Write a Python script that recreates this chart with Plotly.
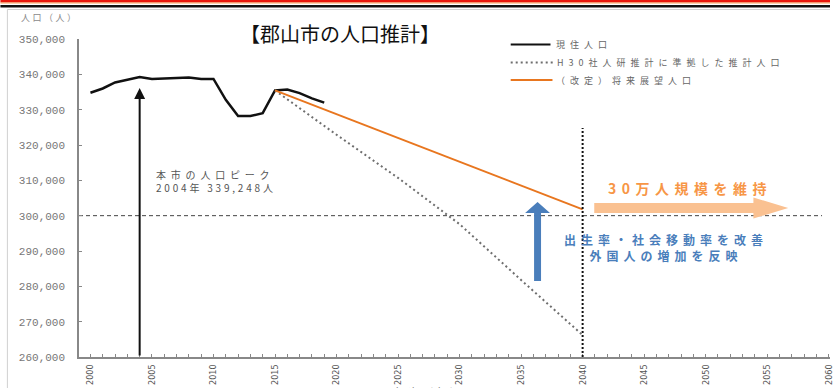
import plotly.graph_objects as go

# ---------------- data ----------------
years_actual = [2000, 2001, 2002, 2003, 2004, 2005, 2006, 2007, 2008, 2009,
                2010, 2011, 2012, 2013, 2014, 2015, 2016, 2017, 2018, 2019]
pop_actual = [334800, 336000, 337700, 338400, 339248, 338700, 338900, 339050, 339100, 338700,
              338700, 332800, 328200, 328200, 329000, 335444, 335700, 334700, 333200, 332000]

years_ipss = [2015, 2020, 2025, 2030, 2035, 2040]
pop_ipss = [335444, 322900, 310700, 297600, 281800, 266200]

years_vision = [2015, 2040]
pop_vision = [335444, 301800]

y_ticks = [260000, 270000, 280000, 290000, 300000, 310000, 320000, 330000, 340000, 350000]
x_ticks = list(range(2000, 2061, 5))

legend_labels = ["現住人口", "H30社人研推計に準拠した推計人口", "（改定）将来展望人口"]
title_text = "【郡山市の人口推計】"
peak_year = 2004
target_pop = 300000
target_year = 2040

# ---------------- layout helpers (pixel -> paper) ----------------
W, H = 834, 388
L, R, T, B = 79, 0, 39, 31
PW, PH = W - L - R, H - T - B


def px(x):
    return (x - L) / PW


def py(y):
    return (H - B - y) / PH


CJK = "Noto Sans CJK JP"


def sp(text, ls):
    return f'<span style="letter-spacing:{ls}px">{text}</span>'


fig = go.Figure()

fig.add_trace(go.Scatter(x=years_actual, y=pop_actual, mode="lines",
                         line=dict(color="#111111", width=2.5), showlegend=False))
fig.add_trace(go.Scatter(x=years_ipss, y=pop_ipss, mode="lines",
                         line=dict(color="#6E6E6E", width=2, dash="2px,3px"), showlegend=False))
fig.add_trace(go.Scatter(x=years_vision, y=pop_vision, mode="lines",
                         line=dict(color="#E8761F", width=2), showlegend=False))

shapes = []
# 300,000 reference line
shapes.append(dict(type="line", xref="paper", yref="y", x0=0, x1=px(826),
                   y0=target_pop, y1=target_pop,
                   line=dict(color="#444444", width=1, dash="4px,3px"), layer="below"))
# 2040 vertical dotted line
shapes.append(dict(type="line", xref="x", yref="y", x0=target_year, x1=target_year,
                   y0=260000, y1=324800,
                   line=dict(color="#111111", width=2, dash="2px,2px")))

# top decoration stripes
shapes.append(dict(type="rect", xref="paper", yref="paper", x0=px(0), x1=px(834),
                   y0=py(2.5), y1=py(0), fillcolor="#E8170C", line=dict(width=0)))
shapes.append(dict(type="rect", xref="paper", yref="paper", x0=px(0), x1=px(834),
                   y0=py(3.5), y1=py(2.5), fillcolor="#F5A25A", line=dict(width=0)))
shapes.append(dict(type="rect", xref="paper", yref="paper", x0=px(0), x1=px(834),
                   y0=py(7.5), y1=py(5), fillcolor="#111111", line=dict(width=0)))
# frame lines
shapes.append(dict(type="line", xref="paper", yref="paper", x0=px(7), x1=px(834),
                   y0=py(9.5), y1=py(9.5), line=dict(color="#D0D0D0", width=1)))
shapes.append(dict(type="line", xref="paper", yref="paper", x0=px(7), x1=px(7),
                   y0=py(388), y1=py(9.5), line=dict(color="#D0D0D0", width=1)))

# legend lines
shapes.append(dict(type="line", xref="paper", yref="paper", x0=px(513), x1=px(553),
                   y0=py(44.5), y1=py(44.5), line=dict(color="#111111", width=2)))
shapes.append(dict(type="line", xref="paper", yref="paper", x0=px(513), x1=px(556),
                   y0=py(62.5), y1=py(62.5), line=dict(color="#6E6E6E", width=2, dash="2px,3px")))
shapes.append(dict(type="line", xref="paper", yref="paper", x0=px(513), x1=px(555),
                   y0=py(80), y1=py(80), line=dict(color="#E8761F", width=2)))


def path(points):
    s = "M " + " L ".join(f"{px(a):.5f},{py(b):.5f}" for a, b in points) + " Z"
    return s


# blue arrow (upward)
bx = 540
shapes.append(dict(type="path", xref="paper", yref="paper",
                   path=path([(bx - 3.5, 281), (bx - 3.5, 213), (bx - 12.5, 213), (bx, 202),
                              (bx + 12.5, 213), (bx + 3.5, 213), (bx + 3.5, 281)]),
                   fillcolor="#4A7EBB", line=dict(width=0)))
# peach arrow (right)
shapes.append(dict(type="path", xref="paper", yref="paper",
                   path=path([(597, 203), (757, 203), (757, 197.5), (792, 208),
                              (757, 218.5), (757, 213), (597, 213)]),
                   fillcolor="#FAC191", line=dict(width=0)))

annotations = []
# peak arrow
annotations.append(dict(x=peak_year, y=336100, xref="x", yref="y",
                        ax=peak_year, ay=260000, axref="x", ayref="y",
                        text="", showarrow=True, arrowhead=2, arrowsize=1.1,
                        arrowwidth=2, arrowcolor="#111111"))

# title
annotations.append(dict(x=px(341), y=py(33), xref="paper", yref="paper",
                        text=title_text, showarrow=False,
                        font=dict(family=CJK, size=20, color="#111111"),
                        xanchor="center", yanchor="middle"))
# axis titles
annotations.append(dict(x=px(19), y=py(17), xref="paper", yref="paper",
                        text=sp("人口（人）", 2.5), showarrow=False,
                        font=dict(family=CJK, size=9, color="#8A8A8A"),
                        xanchor="left", yanchor="middle"))
annotations.append(dict(x=px(394), y=py(382), xref="paper", yref="paper",
                        text=sp("年次（年）", 3), showarrow=False,
                        font=dict(family=CJK, size=11, color="#777777"),
                        xanchor="left", yanchor="top"))
# legend texts
for lab, yy, xx in zip(legend_labels, [44.5, 62.5, 80], [557, 558, 557]):
    annotations.append(dict(x=px(xx), y=py(yy), xref="paper", yref="paper",
                            text=sp(lab, 5), showarrow=False,
                            font=dict(family=CJK, size=9, color="#666666"),
                            xanchor="left", yanchor="middle"))
# peak text (two lines in one annotation)
peak_pop = pop_actual[years_actual.index(peak_year)]
annotations.append(dict(x=px(154), y=py(180.5), xref="paper", yref="paper",
                        text=sp("本市の人口ピーク", 4.8) + "<br>" +
                        sp(f"{peak_year}年 {peak_pop:,}人", 2.8),
                        showarrow=False, align="left",
                        font=dict(family=CJK, size=10, color="#555555"),
                        xanchor="left", yanchor="middle"))
# orange message
annotations.append(dict(x=px(693), y=py(188), xref="paper", yref="paper",
                        text="<b>" + sp("30万人規模を維持", 5.5) + "</b>", showarrow=False,
                        font=dict(family=CJK, size=14, color="#F79646"),
                        xanchor="center", yanchor="middle"))
# blue message (two lines in one annotation)
annotations.append(dict(x=px(669), y=py(247.5), xref="paper", yref="paper",
                        text="<b>" + sp("出生率・社会移動率を改善", 5) + "<br>" +
                        sp("外国人の増加を反映", 5) + "</b>",
                        showarrow=False, align="center",
                        font=dict(family=CJK, size=12, color="#4A7EBB"),
                        xanchor="center", yanchor="middle"))

x_lo = 2000 - (90.5 - L) / 12.37
x_hi = x_lo + PW / 12.37

fig.update_layout(
    width=W, height=H,
    margin=dict(l=L, r=R, t=T, b=B, pad=0),
    paper_bgcolor="white", plot_bgcolor="white",
    showlegend=False,
    shapes=shapes, annotations=annotations,
    xaxis=dict(range=[x_lo, x_hi], tickmode="array", tickvals=x_ticks,
               ticktext=[str(v) for v in x_ticks], tickangle=-90,
               ticks="inside", ticklen=3, tickcolor="#888888",
               minor=dict(dtick=1, tick0=2000, ticks="inside", ticklen=3, tickcolor="#888888"),
               showline=True, linecolor="#888888", linewidth=1.5,
               showgrid=False, zeroline=False,
               ticklabeloverflow="allow",
               tickfont=dict(family="Liberation Sans Narrow, DejaVu Sans Condensed", size=9, color="#555555"),
               ticklabelstandoff=2),
    yaxis=dict(range=[260000, 350000], tickmode="array", tickvals=y_ticks,
               ticktext=[f"{v:,}" for v in y_ticks],
               ticks="inside", ticklen=3, tickcolor="#888888",
               showline=True, linecolor="#888888", linewidth=1.5,
               showgrid=False, zeroline=False,
               tickfont=dict(family="Liberation Mono", size=11, color="#777777"),
               ticklabelstandoff=10),
)

fig.write_html("out.html")
